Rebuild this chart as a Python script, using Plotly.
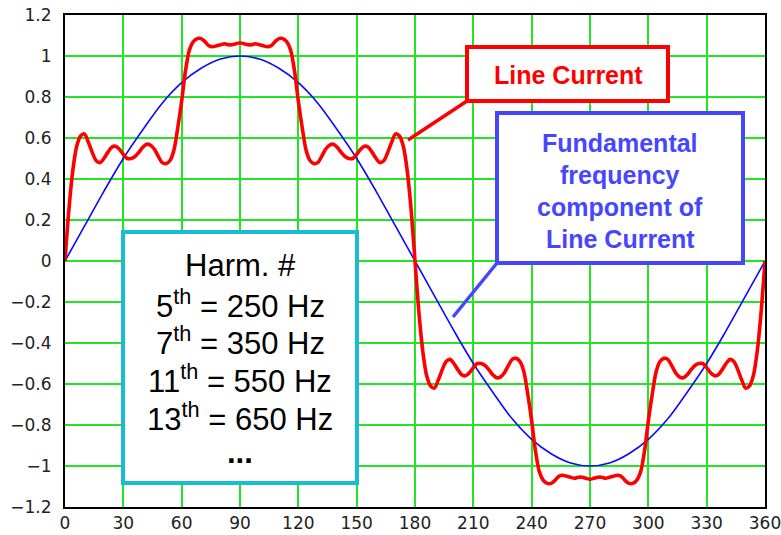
import plotly.graph_objects as go

# Angle axis (degrees) and the two waveforms
red_deg = list(range(0, 362, 2))
line_current = [
    0.00, 0.25, 0.44, 0.56, 0.61, 0.62, 0.58, 0.53, 0.49, 0.48,
    0.50, 0.53, 0.555, 0.56, 0.545, 0.52, 0.50, 0.50, 0.51, 0.53,
    0.555, 0.57, 0.565, 0.545, 0.51, 0.48, 0.475, 0.49, 0.54, 0.65,
    0.78, 0.93, 1.03, 1.07, 1.085, 1.085, 1.07, 1.05, 1.045, 1.05,
    1.055, 1.06, 1.055, 1.055, 1.06, 1.065, 1.06, 1.055, 1.055, 1.06,
    1.055, 1.05, 1.045, 1.05, 1.07, 1.085, 1.085, 1.07, 1.03, 0.93,
    0.78, 0.65, 0.54, 0.49, 0.475, 0.48, 0.51, 0.545, 0.565, 0.57,
    0.555, 0.53, 0.51, 0.50, 0.50, 0.52, 0.545, 0.56, 0.555, 0.53,
    0.50, 0.48, 0.49, 0.53, 0.58, 0.62, 0.61, 0.56, 0.44, 0.25,
    0.00,
    -0.25, -0.44, -0.56, -0.61, -0.62, -0.58, -0.53, -0.49, -0.48,
    -0.50, -0.53, -0.555, -0.56, -0.545, -0.52, -0.50, -0.50, -0.51, -0.53,
    -0.555, -0.57, -0.565, -0.545, -0.51, -0.48, -0.475, -0.49, -0.54, -0.65,
    -0.78, -0.93, -1.03, -1.07, -1.085, -1.085, -1.07, -1.05, -1.045, -1.05,
    -1.055, -1.06, -1.055, -1.055, -1.06, -1.065, -1.06, -1.055, -1.055, -1.06,
    -1.055, -1.05, -1.045, -1.05, -1.07, -1.085, -1.085, -1.07, -1.03, -0.93,
    -0.78, -0.65, -0.54, -0.49, -0.475, -0.48, -0.51, -0.545, -0.565, -0.57,
    -0.555, -0.53, -0.51, -0.50, -0.50, -0.52, -0.545, -0.56, -0.555, -0.53,
    -0.50, -0.48, -0.49, -0.53, -0.58, -0.62, -0.61, -0.56, -0.44, -0.25,
    0.00,
]

blue_deg = list(range(0, 370, 10))
fundamental = [
    0.00, 0.17, 0.34, 0.50, 0.64, 0.77, 0.87, 0.94, 0.985, 1.00,
    0.985, 0.94, 0.87, 0.77, 0.64, 0.50, 0.34, 0.17, 0.00,
    -0.17, -0.34, -0.50, -0.64, -0.77, -0.87, -0.94, -0.985, -1.00,
    -0.985, -0.94, -0.87, -0.77, -0.64, -0.50, -0.34, -0.17, 0.00,
]

x_ticks = list(range(0, 390, 30))
y_ticks = [-1.2, -1.0, -0.8, -0.6, -0.4, -0.2, 0.0, 0.2, 0.4, 0.6, 0.8, 1.0, 1.2]

harmonic_lines = [
    "Harm. #",
    "5<sup>th</sup> = 250 Hz",
    "7<sup>th</sup> = 350 Hz",
    "11<sup>th</sup> = 550 Hz",
    "13<sup>th</sup> = 650 Hz",
    "<b>...</b>",
]
fundamental_lines = ["Fundamental", "frequency", "component of", "Line Current"]

RED = "#ff0000"
BLUE_LINE = "#0a0aff"
BLUE_BOX = "#4646ff"
CYAN = "#19bcd2"
GRID = "#22e622"

# plot area in page pixels
L, R, T, B = 65, 765, 15, 507


def dx(px):
    return (px - L) * 360.0 / (R - L)


def dy(py):
    return ((T + B) / 2.0 - py) * 2.4 / (B - T)


fig = go.Figure()
fig.add_trace(go.Scatter(
    x=blue_deg, y=fundamental, mode="lines",
    line=dict(color=BLUE_LINE, width=1.6, shape="spline", smoothing=1.0),
    hoverinfo="skip", showlegend=False,
))
fig.add_trace(go.Scatter(
    x=red_deg, y=line_current, mode="lines",
    line=dict(color=RED, width=3.6, shape="spline", smoothing=0.8),
    hoverinfo="skip", showlegend=False,
))

shapes = []
annotations = []

# "Line Current" label box and pointer
shapes.append(dict(type="rect", xref="x", yref="y",
                   x0=dx(467), x1=dx(668), y0=dy(101), y1=dy(47),
                   line=dict(color=RED, width=4), fillcolor="white", layer="above"))
shapes.append(dict(type="line", xref="x", yref="y",
                   x0=dx(467), y0=dy(101), x1=dx(408), y1=dy(140),
                   line=dict(color=RED, width=3.5), layer="above"))
annotations.append(dict(xref="x", yref="y", x=dx(568), y=dy(75),
                        text="<b>Line Current</b>", showarrow=False,
                        font=dict(family="Liberation Sans, Arial", size=25, color=RED)))

# Fundamental component label box and pointer
shapes.append(dict(type="rect", xref="x", yref="y",
                   x0=dx(497), x1=dx(743), y0=dy(263), y1=dy(113),
                   line=dict(color=BLUE_BOX, width=4), fillcolor="white", layer="above"))
shapes.append(dict(type="line", xref="x", yref="y",
                   x0=dx(497), y0=dy(263), x1=dx(453), y1=dy(317),
                   line=dict(color=BLUE_BOX, width=3.5), layer="above"))
for i, t in enumerate(fundamental_lines):
    annotations.append(dict(xref="x", yref="y", x=dx(620), y=dy(143 + 32 * i),
                            text="<b>" + t + "</b>", showarrow=False,
                            font=dict(family="Liberation Sans, Arial", size=25, color=BLUE_BOX)))

# Harmonic list box
shapes.append(dict(type="rect", xref="x", yref="y",
                   x0=dx(123), x1=dx(357), y0=dy(483), y1=dy(232),
                   line=dict(color=CYAN, width=4), fillcolor="white", layer="above"))
harm_y = [265, 304, 341, 379, 417, 452]
for t, py in zip(harmonic_lines, harm_y):
    annotations.append(dict(xref="x", yref="y", x=dx(240), y=dy(py),
                            text=t, showarrow=False,
                            font=dict(family="Liberation Sans, Arial", size=31, color="black")))

axis_common = dict(
    showgrid=True, gridcolor=GRID, gridwidth=2,
    zeroline=False, showline=True, linecolor="black", linewidth=2, mirror=True,
    ticks="", automargin=False, ticklabeloverflow="allow",
    tickfont=dict(family="DejaVu Sans", size=17, color="#222"),
)

fig.update_layout(
    width=781, height=535,
    margin=dict(l=L, r=781 - R, t=T, b=535 - B, autoexpand=False),
    paper_bgcolor="white", plot_bgcolor="white",
    shapes=shapes, annotations=annotations,
    xaxis=dict(range=[0, 360], tickvals=x_ticks, ticklabelstandoff=0, **axis_common),
    yaxis=dict(range=[-1.2, 1.2], tickvals=y_ticks, ticklabelstandoff=8, tickformat="~g",
               **axis_common),
)

fig.write_html("out.html")
